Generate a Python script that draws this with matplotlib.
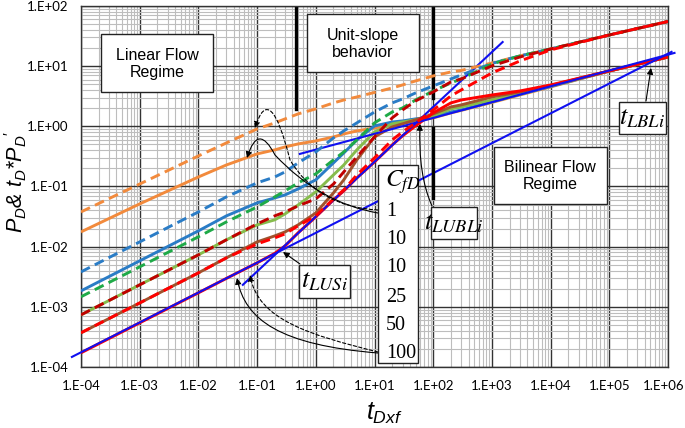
import matplotlib
matplotlib.use('Agg')
import matplotlib.pyplot as plt
from matplotlib.patches import Rectangle, FancyArrowPatch
from matplotlib.path import Path
from matplotlib.ticker import FixedLocator, LogLocator, NullFormatter

plt.rcParams['mathtext.fontset'] = 'custom'
plt.rcParams['mathtext.it'] = 'Liberation Sans:italic'
plt.rcParams['mathtext.rm'] = 'Liberation Sans'

# ---------------- data ----------------
t_dxf = [1e-4, 1e-3, 1e-2, 3e-2, 0.1, 0.2, 0.3, 0.5, 1, 2, 3, 5, 10, 20, 30, 50,
         100, 200, 300, 1e3, 3e3, 1e4, 1e5, 1e6]

pd_orange = [0.0378, 0.110, 0.322, 0.530, 0.905, 1.14, 1.33, 1.61, 1.95, 2.45, 2.74, 3.08,
             3.66, 4.34, 4.87, 5.68, 6.88, 8.01, 8.48, 11.3, 14.8, 19.3, 33.0, 55.3]
dp_orange = [0.0176, 0.0514, 0.144, 0.228, 0.348, 0.406, 0.455, 0.510, 0.572, 0.667, 0.748, 0.839,
             0.941, 1.05, 1.14, 1.23, 1.38, 1.67, 1.84, 2.49, 3.32, 4.51, 8.32, 14.2]
pd_blue = [0.00381, 0.0120, 0.0378, 0.0672, 0.115, 0.144, 0.175, 0.247, 0.376, 0.642, 0.839, 1.14,
           1.73, 2.45, 2.85, 3.59, 4.69, 6.13, 7.14, 11.1, 14.8, 19.3, 33.0, 55.3]
dp_blue = [0.00184, 0.00581, 0.0183, 0.0325, 0.0534, 0.0646, 0.0725, 0.0912, 0.129, 0.247, 0.361, 0.594,
           1.015, 1.18, 1.23, 1.33, 1.43, 1.73, 1.87, 2.54, 3.39, 4.60, 8.32, 14.2]
pd_green = [0.00147, 0.00462, 0.0146, 0.0258, 0.0458, 0.0672, 0.0845, 0.115, 0.162, 0.277, 0.376, 0.594,
            1.14, 1.73, 2.02, 2.74, 3.87, 5.26, 6.13, 10.9, 14.8, 19.3, 33.0, 55.3]
dp_lgreen = [0.000736, 0.00232, 0.00731, 0.0130, 0.0230, 0.0279, 0.0351, 0.0494, 0.0813, 0.156, 0.228, 0.406,
             0.807, 1.10, 1.18, 1.28, 1.49, 1.95, 2.10, 2.74, 3.52, 4.69, 8.32, 14.2]
pd_darkred = [0.000736, 0.00232, 0.00731, 0.0130, 0.0239, 0.0325, 0.0378, 0.0476, 0.0622, 0.110, 0.175, 0.310,
              0.667, 1.38, 1.87, 2.64, 3.73, 5.46, 6.13, 10.1, 14.2, 19.3, 33.0, 55.3]
dp_brown = [0.000370, 0.00116, 0.00367, 0.00652, 0.0120, 0.0151, 0.0176, 0.0230, 0.0364, 0.0783, 0.129, 0.277,
            0.667, 0.977, 1.10, 1.28, 1.61, 2.10, 2.27, 3.08, 3.73, 4.78, 8.32, 14.2]
pd_red = [0.000370, 0.00116, 0.00367, 0.00652, 0.0111, 0.0140, 0.0163, 0.0222, 0.0325, 0.0622, 0.0878, 0.156,
          0.299, 0.594, 0.807, 1.14, 1.87, 3.20, 4.02, 7.71, 12.2, 18.6, 33.0, 55.3]
dp_red = [0.000172, 0.000542, 0.00171, 0.00297, 0.00538, 0.00774, 0.0103, 0.0170, 0.0313, 0.0599, 0.0845, 0.139,
          0.256, 0.491, 0.693, 1.015, 1.67, 2.45, 2.74, 3.32, 3.87, 4.87, 8.32, 14.2]

# straight reference lines (half slope, unit slope, quarter slope)
half_x = [7.0e-5, 1.15e6]
half_y = [1.47e-4, 17.3]
unit_x = [0.0571, 1524]
unit_y = [0.00232, 25.2]
bil_x = [0.535, 1.29e6]
bil_y = [0.348, 16.6]

# thick vertical markers
vbar1_x = [0.457, 0.457]
vbar1_y = [1.95, 92.6]
vbar2_x = [100, 100]
vbar2a_y = [2.96, 96]
vbar2b_y = [0.0646, 0.941]

x_ticks = [1e-4, 1e-3, 1e-2, 1e-1, 1e0, 1e1, 1e2, 1e3, 1e4, 1e5, 1e6]
x_labels = ['1.E-04', '1.E-03', '1.E-02', '1.E-01', '1.E+00', '1.E+01',
            '1.E+02', '1.E+03', '1.E+04', '1.E+05', '1.E+06']
y_ticks = [1e-4, 1e-3, 1e-2, 1e-1, 1e0, 1e1, 1e2]
y_labels = ['1.E-04', '1.E-03', '1.E-02', '1.E-01', '1.E+00', '1.E+01', '1.E+02']
cfd_labels = ['1', '10', '10', '25', '50', '100']

# ---------------- figure ----------------
W, H = 685, 428
fig = plt.figure(figsize=(W / 100, H / 100), dpi=100)
ax = fig.add_axes([81 / W, 1 - 367 / H, 587 / W, 361 / H])
ax.set_xscale('log')
ax.set_yscale('log')
ax.set_xlim(1e-4, 1e6)
ax.set_ylim(1e-4, 1e2)

ax.xaxis.set_major_locator(FixedLocator(x_ticks))
ax.yaxis.set_major_locator(FixedLocator(y_ticks))
ax.xaxis.set_minor_locator(LogLocator(base=10, subs=range(2, 10), numticks=100))
ax.yaxis.set_minor_locator(LogLocator(base=10, subs=range(2, 10), numticks=100))
ax.xaxis.set_minor_formatter(NullFormatter())
ax.yaxis.set_minor_formatter(NullFormatter())
# last x label is drawn separately, nudged inside the figure edge
ax.set_xticklabels(x_labels[:-1] + [''], fontfamily='Lato', fontsize=9.5)
ax.set_yticklabels(y_labels, fontfamily='Lato', fontsize=9.5)
ax.tick_params(which='both', length=0)
ax.tick_params(axis='x', pad=9)
ax.tick_params(axis='y', pad=9)
ax.grid(which='minor', color='#bdbdbd', lw=0.8, zorder=0)
ax.grid(which='major', color='#333333', lw=1.0, zorder=0)
ax.set_axisbelow(True)
for s in ax.spines.values():
    s.set_color('#333333')
    s.set_linewidth(1.0)
fig.text(664 / W, 1 - 379.5 / H, x_labels[-1], ha='center', va='top',
         fontfamily='Lato', fontsize=9.5)

LW = 2.1
DASH = (3.4, 1.9)
c_orange = '#F28A3C'
c_blue = '#2A7CC6'
c_green = '#1FAA48'
c_lgreen = '#86BC4C'
c_darkred = '#C00000'
c_brown = '#A0522D'
c_red = '#FF0000'
c_line = '#1010F0'

# solid (derivative) curves
for y, c in [(dp_orange, c_orange), (dp_blue, c_blue), (dp_lgreen, c_lgreen),
             (dp_brown, c_brown), (dp_red, c_red)]:
    ax.plot(t_dxf, y, color=c, lw=LW, zorder=3, solid_capstyle='butt',
            solid_joinstyle='round')

# straight lines
ax.plot(half_x, half_y, color=c_line, lw=1.5, zorder=4, clip_on=False)
ax.plot(unit_x, unit_y, color=c_line, lw=1.5, zorder=4)
ax.plot(bil_x, bil_y, color=c_line, lw=1.5, zorder=4, clip_on=False)

# dashed (pressure) curves
for y, c in [(pd_orange, c_orange), (pd_blue, c_blue), (pd_green, c_green),
             (pd_darkred, c_darkred), (pd_red, c_red)]:
    ln, = ax.plot(t_dxf, y, color=c, lw=LW, zorder=5, dash_capstyle='butt',
                  dash_joinstyle='round')
    ln.set_dashes(DASH)

# vertical bars
ax.plot(vbar1_x, vbar1_y, color='black', lw=2.4, zorder=2.5)
ax.plot(vbar2_x, vbar2a_y, color='black', lw=2.4, zorder=2.5)
ax.plot(vbar2_x, vbar2b_y, color='black', lw=2.4, zorder=6)


# ---------------- annotations (axes-fraction coords from pixel positions) ----
def fx(px):
    return (px - 81) / 587


def fy(py):
    return (367 - py) / 361


def box(x0, y0, x1, y1):
    r = Rectangle((fx(x0), fy(y1)), fx(x1) - fx(x0), fy(y0) - fy(y1),
                  transform=ax.transAxes, facecolor='white', edgecolor='#222222',
                  lw=1.0, zorder=7, clip_on=False)
    ax.add_patch(r)


def sans_box_text(xc, yc, s):
    ax.text(fx(xc), fy(yc), s, transform=ax.transAxes, ha='center', va='center',
            fontsize=11.5, fontfamily='Liberation Sans', linespacing=1.2, zorder=8)


box(101, 34, 213, 92)
sans_box_text(157, 64, 'Linear Flow\nRegime')
box(307, 14, 419, 72)
sans_box_text(363, 44, 'Unit-slope\nbehavior')
box(494, 147, 607, 204)
sans_box_text(550, 176, 'Bilinear Flow\nRegime')

box(619, 102, 666, 134)
ax.text(fx(642.5), fy(117), r'$t_{LBLi}$', transform=ax.transAxes, ha='center',
        va='center', fontsize=19, math_fontfamily='stix', zorder=8)
box(431, 207, 477, 239)
ax.text(fx(454), fy(222), r'$t_{LUBLi}$', transform=ax.transAxes, ha='center',
        va='center', fontsize=19, math_fontfamily='stix', zorder=8)
box(299, 265, 350, 298)
ax.text(fx(324.5), fy(280), r'$t_{LUSi}$', transform=ax.transAxes, ha='center',
        va='center', fontsize=19, math_fontfamily='stix', zorder=8)

box(378, 165, 418, 363)
ax.text(fx(385), fy(182), r'$C_{fD}$', transform=ax.transAxes, ha='left',
        va='center', fontsize=18, math_fontfamily='stix', zorder=8)
for lab, py in zip(cfd_labels, [212, 240, 268, 297, 325, 353]):
    ax.text(fx(386), fy(py), lab, transform=ax.transAxes, ha='left', va='center',
            fontsize=14.5, fontfamily='Liberation Serif', zorder=8)


def curve_arrow(pts, codes, ls='-'):
    verts = [(fx(p[0]), fy(p[1])) for p in pts]
    path = Path(verts, codes)
    a = FancyArrowPatch(path=path, arrowstyle='-|>', mutation_scale=9,
                        color='black', lw=0.8, linestyle=ls, transform=ax.transAxes,
                        zorder=6.5, clip_on=False)
    ax.add_patch(a)


M, C3, C4, L = Path.MOVETO, Path.CURVE3, Path.CURVE4, Path.LINETO
# from "1" to orange curves
curve_arrow([(378, 213), (320, 203), (275, 155), (258, 122), (247, 158)], [M, C3, C3, C3, C3])
curve_arrow([(378, 210), (318, 207), (290, 160), (270, 80), (255, 128)], [M, C3, C3, C3, C3], ls=(0, (3, 2)))
# from "100" to red curves
curve_arrow([(378, 353), (280, 345), (245, 320), (237, 278)], [M, C4, C4, C4])
curve_arrow([(378, 352), (310, 335), (258, 320), (250, 275)], [M, C4, C4, C4], ls=(0, (3, 2)))
# tLUSi, tLUBLi, tLBLi
curve_arrow([(300, 264), (283, 252)], [M, L])
curve_arrow([(432, 206), (418, 175), (420, 124)], [M, C3, C3])
curve_arrow([(646, 101), (651, 68)], [M, L])

# axis titles
fig.text(16 / W, 1 - 182 / H, r'$P_D$& $t_D$*$P_D$$^{\prime}$', rotation=90,
         ha='center', va='center', fontsize=15.5, fontfamily='Liberation Sans', style='italic')
fig.text(384 / W, 1 - 413 / H, r'$t_{Dxf}$', ha='center', va='center', fontsize=18)

fig.savefig('out.png', dpi=100)
